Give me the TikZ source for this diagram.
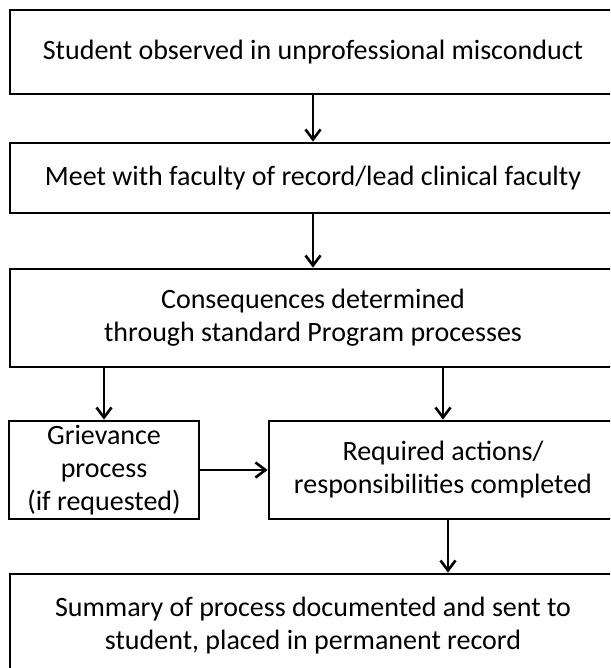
\documentclass[tikz,border=0pt]{standalone}
\usepackage{fontspec}
\setmainfont{Carlito}
\usetikzlibrary{arrows.meta}
\tikzset{
  box/.style={draw=black, line width=2.8pt, rectangle, align=center, inner sep=0pt,
    font=\fontsize{28}{33}\selectfont},
  arr/.style={draw=black, line width=2.6pt, -{Straight Barb[length=10pt,width=15pt,line width=2.6pt]}}
}
\begin{document}
\begin{tikzpicture}[x=1pt,y=-1pt]
\useasboundingbox (0,0) rectangle (610,668);
\clip (0,0) rectangle (610,668);
\node[box, minimum width=606pt, minimum height=84pt] (b1) at (313,52) {Student observed in unprofessional misconduct};
\node[box, minimum width=606pt, minimum height=70pt] (b2) at (313,178) {Meet with faculty of record/lead clinical faculty};
\node[box, minimum width=606pt, minimum height=98pt] (b3) at (313,318) {Consequences determined\\through standard Program processes};
\node[box, minimum width=190pt, minimum height=98pt] (gr) at (104,470) {Grievance\\process\\(if requested)};
\node[box, minimum width=348pt, minimum height=98pt] (rq) at (443,470) {Required actions/\\responsibilities completed};
\node[box, minimum width=606pt, minimum height=104pt] (sm) at (313,626) {Summary of process documented and sent to\\student, placed in permanent record};
\draw[arr] (b1) -- (b2);
\draw[arr] (b2) -- (b3);
\draw[arr] (b3.south -| gr.north) -- (gr.north);
\draw[arr] (b3.south -| rq.north) -- (rq.north);
\draw[arr] (gr.east) -- (rq.west);
\draw[arr] ([xshift=5pt]rq.south) -- ([xshift=5pt]rq.south |- sm.north);
\end{tikzpicture}
\end{document}
